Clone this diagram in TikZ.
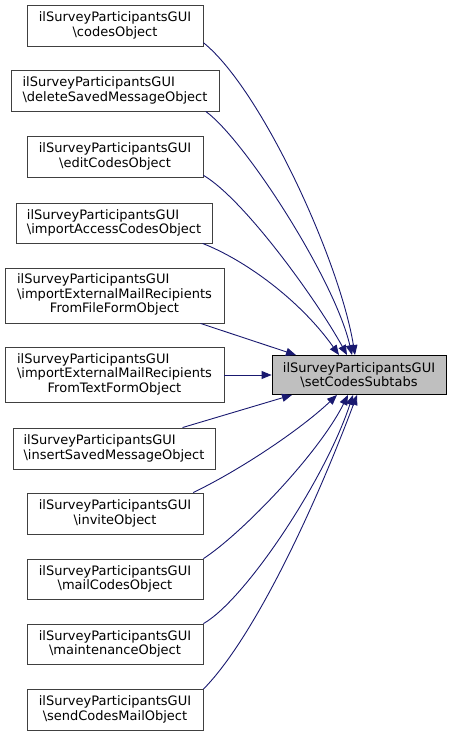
\documentclass[tikz,border=0pt]{standalone}
\usepackage{fontspec}
\setmainfont{DejaVu Sans}
\usetikzlibrary{arrows.meta}
\definecolor{edgeblue}{RGB}{25,25,112}
\definecolor{rootgray}{RGB}{191,191,191}
\definecolor{boxline}{RGB}{64,64,64}
\newcommand{\fnleft}[1]{\multicolumn{1}{@{}l@{}}{#1}}

\begin{document}
\begin{tikzpicture}[x=1pt,y=-1pt,
    fnbox/.style={draw=boxline,fill=white,line width=0.9pt,inner sep=2pt,
      minimum width=176pt,minimum height=41pt,font=\fontsize{13}{14.5}\selectfont},
    fnroot/.style={fnbox,draw=black,fill=rootgray,minimum width=174pt,minimum height=39pt,align=center},
    calledge/.style={draw=edgeblue,line width=0.9pt,-{Triangle[length=10pt,width=8pt]}}]

  \useasboundingbox (0,0) rectangle (452,736);

  %-------------------- callers --------------------
  \node[fnbox,align=center] (codes) at (115,25.5)
    {ilSurveyParticipantsGUI\\\textbackslash codesObject};
  \node[fnbox,align=left,minimum width=208pt] (delsaved) at (115,90.5)
    {ilSurveyParticipantsGUI\\\textbackslash deleteSavedMessageObject};
  \node[fnbox,align=center] (editcodes) at (115,156.5)
    {ilSurveyParticipantsGUI\\\textbackslash editCodesObject};
  \node[fnbox,align=left,minimum width=196pt,minimum height=40pt] (importaccess) at (114,223)
    {ilSurveyParticipantsGUI\\\textbackslash importAccessCodesObject};
  \node[fnbox,minimum width=219pt,minimum height=55pt] (fromfile) at (114.5,295.5)
    {\begin{tabular}{@{}c@{}}\fnleft{ilSurveyParticipantsGUI}\\
      \fnleft{\textbackslash importExternalMailRecipients}\\FromFileFormObject\end{tabular}};
  \node[fnbox,minimum width=219pt,minimum height=55pt] (fromtext) at (114.5,375)
    {\begin{tabular}{@{}c@{}}\fnleft{ilSurveyParticipantsGUI}\\
      \fnleft{\textbackslash importExternalMailRecipients}\\FromTextFormObject\end{tabular}};
  \node[fnbox,align=left,minimum width=202pt] (insertsaved) at (114,448.5)
    {ilSurveyParticipantsGUI\\\textbackslash insertSavedMessageObject};
  \node[fnbox,align=center] (invite) at (115,513.5)
    {ilSurveyParticipantsGUI\\\textbackslash inviteObject};
  \node[fnbox,align=center,minimum height=40pt] (mailcodes) at (115,579)
    {ilSurveyParticipantsGUI\\\textbackslash mailCodesObject};
  \node[fnbox,align=center,minimum height=40pt] (maintenance) at (115,644)
    {ilSurveyParticipantsGUI\\\textbackslash maintenanceObject};
  \node[fnbox,align=center] (sendmail) at (115,709.5)
    {ilSurveyParticipantsGUI\\\textbackslash sendCodesMailObject};

  %-------------------- called function --------------------
  \node[fnroot] (subtabs) at (359,375)
    {ilSurveyParticipantsGUI\\\textbackslash setCodesSubtabs};

  % edges into the top side
  \draw[calledge] (codes.-11) .. controls (262,90) and (340,262) .. ([xshift=-4pt]subtabs.north);
  \draw[calledge] (delsaved.-13) .. controls (245,140) and (335,280) .. ([xshift=-7pt]subtabs.north);
  \draw[calledge] (editcodes.-12.5) .. controls (245,200) and (318,302) .. ([xshift=-12pt]subtabs.north);
  \draw[calledge] (importaccess.-13) .. controls (245,260) and (300,300) .. ([xshift=-20pt]subtabs.north);
  \draw[calledge] (fromfile.-18) -- ([xshift=-63pt]subtabs.north);

  % straight edge
  \draw[calledge] (fromtext.east) -- (subtabs.west);

  % edges into the bottom side
  \draw[calledge] (insertsaved.17) -- ([xshift=-67pt]subtabs.south);
  \draw[calledge] (invite.15) .. controls (240,470) and (300,430) .. ([xshift=-22pt]subtabs.south);
  \draw[calledge] (mailcodes.13) .. controls (240,535) and (318,455) .. ([xshift=-11pt]subtabs.south);
  \draw[calledge] (maintenance.13) .. controls (245,600) and (325,480) .. ([xshift=-6pt]subtabs.south);
  \draw[calledge] (sendmail.13) .. controls (252,640) and (312,515) .. ([xshift=-2pt]subtabs.south);

\end{tikzpicture}
\end{document}
